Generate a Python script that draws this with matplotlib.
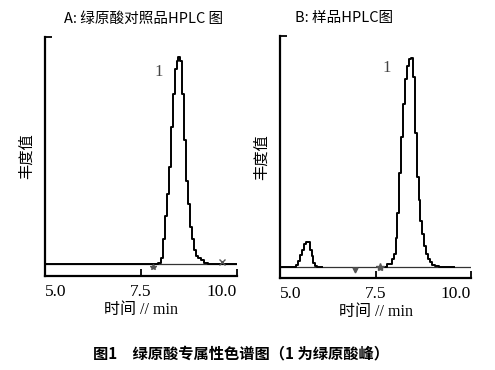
import matplotlib.pyplot as plt

# chromatogram A: reference standard
time_a = [5.0, 7.9, 8.0, 8.05, 8.1, 8.15, 8.2, 8.25, 8.3, 8.35, 8.4, 8.45, 8.5, 8.55,
          8.6, 8.65, 8.7, 8.75, 8.8, 8.85, 8.9, 8.95, 9.0, 9.1, 9.2, 9.3, 10.0]
resp_a = [0, 0, 0.5, 3, 12, 23, 34, 47, 66, 82, 94, 98, 100, 98,
          82, 60, 40, 29, 18, 12, 7, 4, 3, 2, 0.5, 0, 0]

# chromatogram B: sample
time_b = [5.05, 5.4, 5.45, 5.5, 5.55, 5.6, 5.65, 5.7, 5.75, 5.8, 5.85, 5.9, 5.95, 6.0, 6.1]
resp_b = [0, 0, 1, 3, 5.6, 8, 11, 12, 12, 8, 5, 2, 0.5, 0, 0]
time_b2 = [7.7, 7.9, 7.95, 8.0, 8.05, 8.1, 8.15, 8.2, 8.25, 8.3, 8.35, 8.4, 8.45, 8.5,
           8.55, 8.6, 8.65, 8.7, 8.75, 8.8, 8.85, 8.9, 8.95, 9.0, 9.1, 9.2, 9.55]
resp_b2 = [0, 1.5, 4, 6, 14, 26, 45, 62, 78, 90, 96, 99.5, 100, 91,
           64, 43, 32, 22, 16, 10, 6, 4, 2.4, 1, 0.5, 0, 0]

ticks = [5.0, 7.5, 10.0]
tick_labels = ["5.0", "7.5", "10.0"]

serif = ["Liberation Serif", "Noto Sans CJK SC"]
cjk = ["Noto Sans CJK SC", "DejaVu Sans"]

fig = plt.figure(figsize=(4.95, 3.70), dpi=100)
ax_a = fig.add_axes([0.0909, 0.254, 0.388, 0.646])
ax_b = fig.add_axes([0.5657, 0.2486, 0.3859, 0.654])


def style(ax, ylim):
    ax.set_xlim(5.0, 10.0)
    ax.set_ylim(*ylim)
    for s in ["top", "right"]:
        ax.spines[s].set_visible(False)
    for s in ["left", "bottom"]:
        ax.spines[s].set_linewidth(1.6)
    ax.set_xticks(ticks)
    ax.set_xticklabels(tick_labels, family=serif, fontsize=12.5)
    for lab, ha in zip(ax.get_xticklabels(), ["left", "center", "right"]):
        lab.set_ha(ha)
    ax.tick_params(axis="x", direction="in", length=5, width=1.3, pad=6)
    ax.set_yticks([ylim[1]])
    ax.set_yticklabels([])
    ax.tick_params(axis="y", direction="in", length=5, width=1.3)
    ax.set_ylabel("丰度值", family=cjk, fontsize=11, labelpad=4)
    ax.set_xlabel("时间 // min", family=serif, fontsize=11.5, labelpad=1)
    ax.axhline(0, color="#333333", lw=0.9)


style(ax_a, (-5.8, 109.7))
style(ax_b, (-5.3, 110.5))

ax_a.plot(time_a, resp_a, color="black", lw=1.4, drawstyle="steps-mid")
ax_a.plot([7.8], [-1.5], marker="*", color="#555555", ms=4, ls="none")
ax_a.plot([9.6], [1], marker="x", color="#555555", ms=4, ls="none")
ax_a.text(7.95, 93, "1", family=serif, fontsize=12, color="#444444", ha="center", va="center")
ax_a.set_title("A: 绿原酸对照品HPLC 图", family=cjk, fontsize=10.5, loc="left", x=0.1, pad=10)

ax_b.plot(time_b, resp_b, color="black", lw=1.4, drawstyle="steps-mid")
ax_b.plot(time_b2, resp_b2, color="black", lw=1.4, drawstyle="steps-mid")
ax_b.plot([6.95], [-1.5], marker="v", color="#555555", ms=3.5, ls="none")
ax_b.plot([7.63], [0], marker="*", color="#555555", ms=6, ls="none")
ax_b.text(7.79, 95, "1", family=serif, fontsize=12, color="#444444", ha="center", va="center")
ax_b.set_title("B: 样品HPLC图", family=cjk, fontsize=10.5, loc="left", x=0.08, pad=10)

fig.text(0.487, 0.046, "图1　绿原酸专属性色谱图（1 为绿原酸峰）", family=cjk,
         fontsize=11, fontweight="bold", ha="center", va="center")

fig.savefig("out.png", dpi=100)
